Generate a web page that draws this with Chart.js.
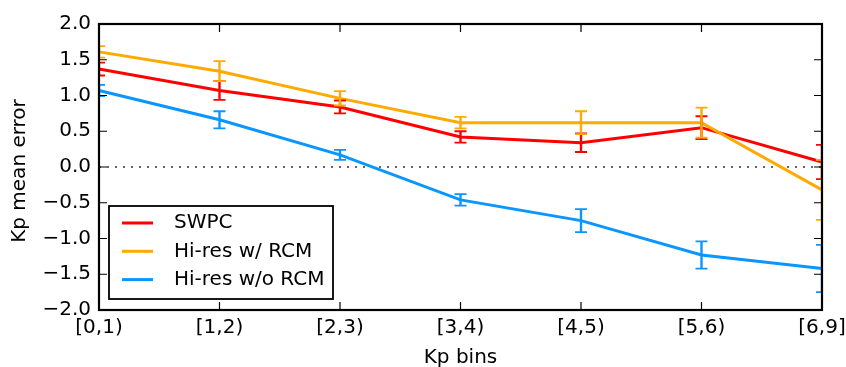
<!DOCTYPE html>
<html>
<head>
<meta charset="utf-8">
<script src="https://cdn.jsdelivr.net/npm/chart.js@4/dist/chart.umd.min.js"></script>
<style>
  html, body { margin: 0; padding: 0; background: #fff; }
</style>
</head>
<body>
<canvas id="kpChart" width="846" height="367"></canvas>
<script>
const bins = ["[0,1)", "[1,2)", "[2,3)", "[3,4)", "[4,5)", "[5,6)", "[6,9]"];

const swpcMean = [1.37, 1.07, 0.84, 0.42, 0.34, 0.55, 0.07];
const swpcErr = [0.09, 0.13, 0.09, 0.08, 0.13, 0.16, 0.24];

const rcmMean = [1.61, 1.34, 0.96, 0.62, 0.62, 0.62, -0.32];
const rcmErr = [0.08, 0.14, 0.10, 0.08, 0.16, 0.21, 0.42];

const noRcmMean = [1.07, 0.66, 0.17, -0.46, -0.75, -1.23, -1.42];
const noRcmErr = [0.08, 0.12, 0.07, 0.08, 0.16, 0.19, 0.33];

const yTicks = [-2.0, -1.5, -1.0, -0.5, 0.0, 0.5, 1.0, 1.5, 2.0];

const FONT = "'DejaVu Sans', sans-serif";
const FSIZE = 20;

// error bars, dotted zero line, framed box with inward ticks, legend in the corner
const mplStyle = {
  id: "mplStyle",
  beforeDatasetsDraw(chart) {
    const { ctx, chartArea: a, scales: { y } } = chart;
    const y0 = y.getPixelForValue(0);
    ctx.save();
    ctx.strokeStyle = "#666";
    ctx.lineWidth = 2;
    ctx.setLineDash([2, 6]);
    ctx.beginPath();
    ctx.moveTo(a.left, y0);
    ctx.lineTo(a.right, y0);
    ctx.stroke();
    ctx.restore();
  },
  afterDatasetsDraw(chart) {
    const { ctx, chartArea: a, scales: { x, y } } = chart;
    ctx.save();
    ctx.beginPath();
    ctx.rect(a.left, a.top, a.right - a.left, a.bottom - a.top);
    ctx.clip();
    chart.data.datasets.forEach((ds) => {
      ctx.strokeStyle = ds.borderColor;
      ds.errors.forEach((e, i) => {
        const px = x.getPixelForValue(i);
        const top = y.getPixelForValue(ds.data[i] + e);
        const bot = y.getPixelForValue(ds.data[i] - e);
        ctx.lineWidth = 2.4;
        ctx.beginPath();
        ctx.moveTo(px, top);
        ctx.lineTo(px, bot);
        ctx.stroke();
        ctx.lineWidth = 1.8;
        ctx.beginPath();
        ctx.moveTo(px - 6, top);
        ctx.lineTo(px + 6, top);
        ctx.moveTo(px - 6, bot);
        ctx.lineTo(px + 6, bot);
        ctx.stroke();
      });
    });
    ctx.restore();

    // frame and inward ticks
    ctx.save();
    ctx.strokeStyle = "#000";
    ctx.lineWidth = 1.2;
    const tl = 8;
    ctx.beginPath();
    x.ticks.forEach((t, i) => {
      const px = x.getPixelForValue(i);
      ctx.moveTo(px, a.bottom);
      ctx.lineTo(px, a.bottom - tl);
      ctx.moveTo(px, a.top);
      ctx.lineTo(px, a.top + tl);
    });
    y.ticks.forEach((t) => {
      const py = y.getPixelForValue(t.value);
      ctx.moveTo(a.left, py);
      ctx.lineTo(a.left + tl, py);
      ctx.moveTo(a.right, py);
      ctx.lineTo(a.right - tl, py);
    });
    ctx.stroke();
    ctx.lineWidth = 2.2;
    ctx.strokeRect(a.left, a.top, a.right - a.left, a.bottom - a.top);
    ctx.restore();
  },
  afterDraw(chart) {
    const { ctx, chartArea: a } = chart;

    // y axis title
    ctx.save();
    ctx.font = FSIZE + "px " + FONT;
    ctx.fillStyle = "#000";
    ctx.textAlign = "center";
    ctx.textBaseline = "middle";
    ctx.translate(20, (a.top + a.bottom) / 2 + 4);
    ctx.rotate(-Math.PI / 2);
    ctx.fillText("Kp mean error", 0, 0);
    ctx.restore();

    const bx = a.left + 10, by = 206, bw = 224, bh = 93;
    ctx.save();
    ctx.fillStyle = "#fff";
    ctx.fillRect(bx, by, bw, bh);
    ctx.strokeStyle = "#000";
    ctx.lineWidth = 1.8;
    ctx.strokeRect(bx, by, bw, bh);
    ctx.font = FSIZE + "px " + FONT;
    ctx.textBaseline = "middle";
    ctx.fillStyle = "#000";
    chart.data.datasets.forEach((ds, i) => {
      const ry = by + 17 + i * 28.3;
      ctx.strokeStyle = ds.borderColor;
      ctx.lineWidth = 3;
      ctx.beginPath();
      ctx.moveTo(bx + 13, ry);
      ctx.lineTo(bx + 44, ry);
      ctx.stroke();
      ctx.fillText(ds.label, bx + 65, ry);
    });
    ctx.restore();
  }
};

const mkSet = (label, data, errors, color, order) => ({
  label: label,
  data: data,
  errors: errors,
  borderColor: color,
  backgroundColor: color,
  borderWidth: 3,
  pointRadius: 0,
  tension: 0,
  fill: false,
  order: order
});

new Chart(document.getElementById("kpChart"), {
  type: "line",
  data: {
    labels: bins,
    datasets: [
      mkSet("SWPC", swpcMean, swpcErr, "#ff0000", 2),
      mkSet("Hi-res w/ RCM", rcmMean, rcmErr, "#ffaa00", 1),
      mkSet("Hi-res w/o RCM", noRcmMean, noRcmErr, "#0a96ff", 0)
    ]
  },
  options: {
    responsive: false,
    animation: false,
    layout: { padding: { top: 24, right: 24, left: 0, bottom: 0 } },
    plugins: {
      legend: { display: false },
      tooltip: { enabled: false }
    },
    scales: {
      x: {
        offset: false,
        grid: { display: false, drawTicks: false },
        border: { display: false },
        ticks: { color: "#000", font: { family: FONT, size: FSIZE }, padding: 6, maxRotation: 0 },
        title: { display: true, text: "Kp bins", color: "#000", font: { family: FONT, size: FSIZE }, padding: { top: 0, bottom: -3 } },
        afterFit(s) { s.height = 57; s.paddingLeft = 0; s.paddingRight = 0; }
      },
      y: {
        min: -2,
        max: 2,
        grid: { display: false, drawTicks: false },
        border: { display: false },
        afterBuildTicks(s) { s.ticks = yTicks.map((v) => ({ value: v })); },
        ticks: {
          color: "#000",
          font: { family: FONT, size: FSIZE },
          padding: 8,
          callback: (v) => (v < 0 ? "\u2212" : "") + Math.abs(v).toFixed(1)
        },
        afterFit(s) { s.width = 99; s.paddingTop = 0; s.paddingBottom = 0; }
      }
    }
  },
  plugins: [mplStyle]
});
</script>
</body>
</html>
